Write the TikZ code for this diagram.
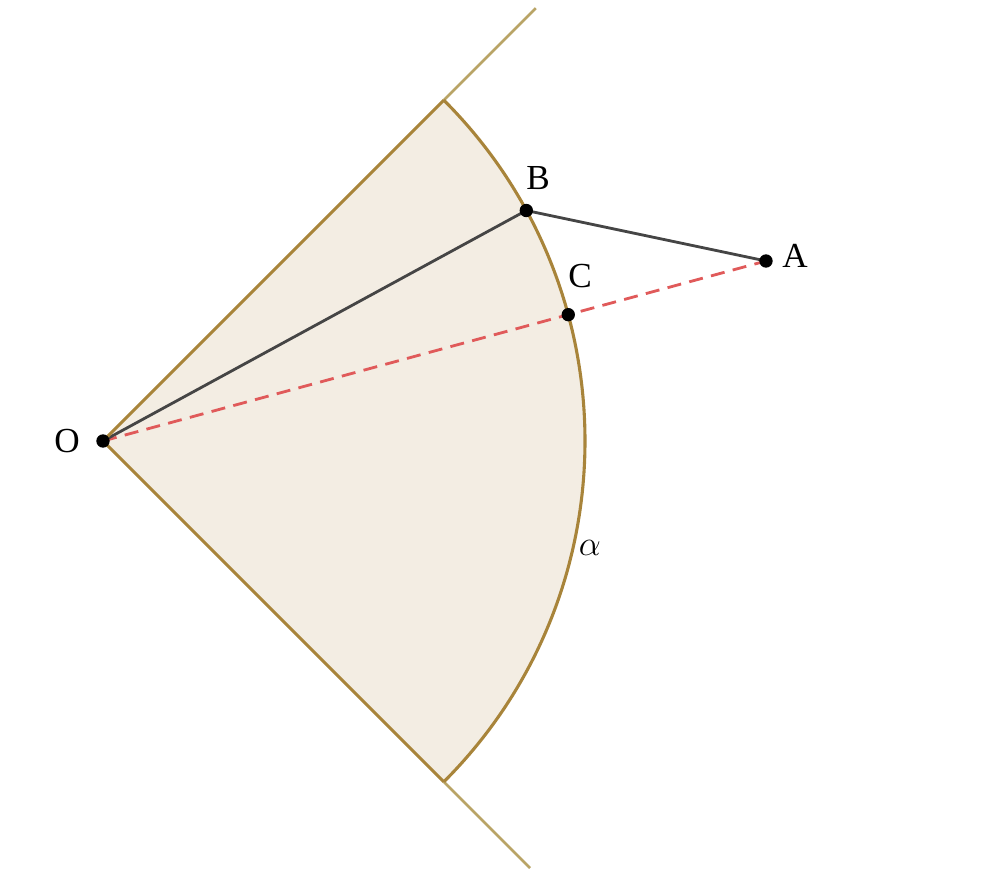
\documentclass[tikz,border=0pt]{standalone}
\usepackage{fontspec}
\setmainfont{Liberation Serif}
\usetikzlibrary{calc}
\definecolor{sectfill}{HTML}{F3EDE3}
\definecolor{sectedge}{HTML}{A8843A}
\definecolor{raycol}{HTML}{B9A466}
\definecolor{seggray}{HTML}{454545}
\definecolor{dashred}{HTML}{E05A5A}
\begin{document}
\begin{tikzpicture}[x=0.025cm,y=0.025cm,
  dot/.style={circle,fill=black,inner sep=0pt,minimum size=9.5pt},
  lbl/.style={font=\fontsize{25}{28}\selectfont,inner sep=0pt},
  edge/.style={draw=sectedge,line width=2.2pt},
  ray/.style={draw=raycol,line width=2pt},
  seg/.style={draw=seggray,line width=2pt},
  redd/.style={draw=dashred,line width=2pt,dash pattern=on 10pt off 6pt}]
\useasboundingbox (0,0) rectangle (982,874);
\coordinate (O) at (103,433);
\coordinate (A) at (766,613);
\coordinate (P1) at ($(O)+(45:482)$);
\coordinate (P2) at ($(O)+(-45:482)$);
\coordinate (R1) at ($(O)+(45:612)$);
\coordinate (R2) at ($(O)+(-45:604)$);
\coordinate (B) at ($(O)+(28.57:482)$);
\coordinate (C) at ($(O)!12.05cm!(A)$);
% sector fill
\fill[sectfill] (O) -- (P2) arc[start angle=-45,end angle=45,radius=482] -- cycle;
% rays beyond
\draw[ray] (P1) -- (R1);
\draw[ray] (P2) -- (R2);
% segments
\draw[redd] (O) -- (A);
\draw[seg] (O) -- (B) -- (A);
% sector edges
\draw[edge] (O) -- (P1);
\draw[edge] (O) -- (P2);
\draw[edge] (P2) arc[start angle=-45,end angle=45,radius=482];
% points
\node[dot] (Od) at (O) {};
\node[dot] (Bd) at (B) {};
\node[dot] (Cd) at (C) {};
\node[dot] (Ad) at (A) {};
% labels
\node[lbl] (Ol) at (67,433) {O};
\node[lbl] (Bl) at (538,696) {B};
\node[lbl] (Cl) at (580,598) {C};
\node[lbl] (Al) at (795,618) {A};
\node[lbl] (al) at (590,326) {$\alpha$};
\end{tikzpicture}
\end{document}
